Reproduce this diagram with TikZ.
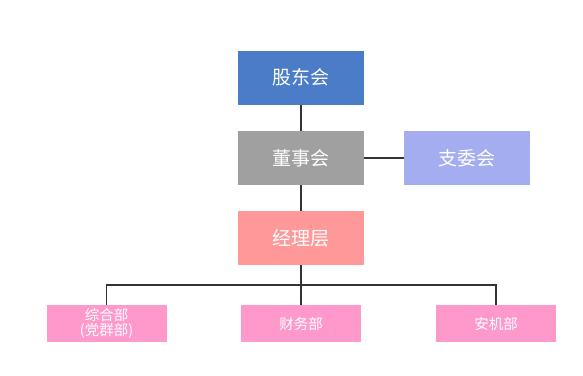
\documentclass[tikz,border=0pt]{standalone}
\usepackage{fontspec}
\newfontfamily\cjk{Noto Sans CJK SC}
\definecolor{cblue}{HTML}{4A7CC8}
\definecolor{cgray}{HTML}{A0A0A0}
\definecolor{cviolet}{HTML}{A3ADEF}
\definecolor{csalmon}{HTML}{FF9999}
\definecolor{cpink}{HTML}{FF99CC}
\definecolor{cline}{HTML}{333333}
\begin{document}
\begin{tikzpicture}[x=1pt,y=-1pt,
  bigbox/.style={draw=none,minimum width=126pt,minimum height=54pt,inner sep=0pt,
    text=white,font=\cjk\fontsize{19}{22}\selectfont},
  smallbox/.style={draw=none,fill=cpink,minimum width=120pt,minimum height=37pt,inner sep=0pt,
    text=white,font=\cjk\fontsize{14.5}{15.5}\selectfont,align=center},
  conn/.style={draw=cline,line width=1.8pt}]
\useasboundingbox (0,0) rectangle (583,375);
\fill[white] (0,0) rectangle (583,375);
\node[bigbox,fill=cblue] (gd) at (301,77.5) {股东会};
\node[bigbox,fill=cgray] (dsh) at (301,158) {董事会};
\node[bigbox,fill=cviolet] (zwh) at (467,158) {支委会};
\node[bigbox,fill=csalmon] (jlc) at (301,238) {经理层};
\node[smallbox] (zhb) at (106.5,323.5) {综合部\\(党群部)};
\node[smallbox] (cwb) at (301,323.5) {财务部};
\node[smallbox] (ajb) at (496,323.5) {安机部};
\coordinate (bus) at (301,285);
\draw[conn] (gd) -- (dsh);
\draw[conn] (dsh) -- (zwh);
\draw[conn] (dsh) -- (jlc);
\draw[conn] (jlc) -- (cwb);
\draw[conn] (zhb.north) |- (bus) -| (ajb.north);
\end{tikzpicture}
\end{document}
